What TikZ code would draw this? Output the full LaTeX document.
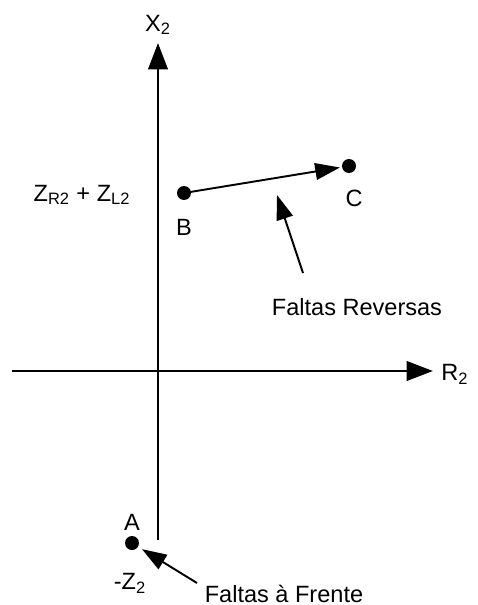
\documentclass[tikz,border=0pt]{standalone}
\usepackage{fontspec}
\setmainfont{Liberation Sans}
\usetikzlibrary{arrows.meta}

\tikzset{
  lbl/.style={font=\fontsize{13.4}{16}\selectfont, inner sep=0pt},
  dot/.style={circle, fill=black, minimum size=0.28cm, inner sep=0pt},
  axis/.style={line width=1.7pt, -{Triangle[length=15pt,width=11pt]}},
  ptr/.style={line width=1.1pt, -{Triangle[length=14pt,width=9.5pt]}}
}

\begin{document}
\begin{tikzpicture}[x=0.02cm, y=-0.02cm]
\useasboundingbox (0,0) rectangle (477,605);

% Axes
\coordinate (ybot) at (158,540);
\coordinate (ytop) at (158,43);
\coordinate (xleft) at (12,371);
\coordinate (xright) at (433,371);
\draw[axis] (ybot) -- (ytop);
\draw[axis] (xleft) -- (xright);
\node[lbl] (X2) at (158,25) {X\textsubscript{2}};
\node[lbl] (R2) at (455,374) {R\textsubscript{2}};

% Points
\node[dot] (A) at (132,543) {};
\node[dot] (B) at (184,193) {};
\node[dot] (C) at (349,166) {};
\node[lbl] (labA) at (132,522) {A};
\node[lbl] (labB) at (184,227) {B};
\node[lbl] (labC) at (354,198) {C};
\node[lbl] (ZA) at (130,583) {-Z\textsubscript{2}};
\node[lbl] (ZB) at (82,195) {Z\textsubscript{R2} + Z\textsubscript{L2}};

% B to C
\draw[ptr, shorten >=1.1pt] (B.center) -- (C);

% Reverse faults
\node[lbl] (rev) at (357,307) {Faltas Reversas};
\coordinate (revtail) at (303,273);
\coordinate (revtip) at (277,195);
\draw[ptr] (revtail) -- (revtip);

% Forward faults
\node[lbl] (fwd) at (284,594) {Faltas à Frente};
\coordinate (fwdtail) at (197,583);
\draw[ptr, shorten >=2.5pt] (fwdtail) -- (A);
\end{tikzpicture}
\end{document}
